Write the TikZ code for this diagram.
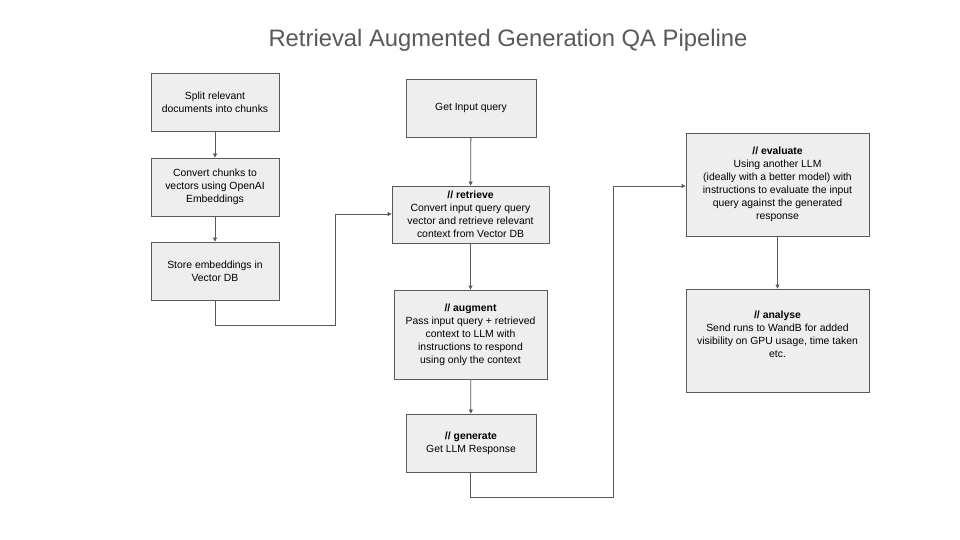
\documentclass[tikz,border=0pt]{standalone}
\usepackage{fontspec}
\setmainfont{Liberation Sans}
\usetikzlibrary{arrows.meta}
\definecolor{boxfill}{HTML}{EEEEEE}
\definecolor{boxline}{HTML}{595959}
\definecolor{titlegray}{HTML}{595959}
\begin{document}
\begin{tikzpicture}[x=1pt,y=-1pt,
  box/.style={draw=boxline, fill=boxfill, line width=0.8pt, align=center,
    font=\fontsize{10.4}{13}\selectfont, inner sep=0pt, text=black},
  plain/.style={align=center, font=\fontsize{10.4}{13}\selectfont, inner sep=0pt, text=black},
  conn/.style={draw=boxline, line width=0.8pt, -{Triangle[length=4pt,width=4pt]}}]
\useasboundingbox (0,0) rectangle (960,540);
\fill[white] (0,0) rectangle (960,540);
\node[font=\fontsize{23.8}{28}\selectfont, text=titlegray] (title) at (508,40) {Retrieval Augmented Generation QA Pipeline};

\node[box, minimum width=128pt, minimum height=58pt] (split) at (215,102) {Split relevant\\documents into chunks};
\node[box, minimum width=128pt, minimum height=58pt] (conv) at (215,187) {Convert chunks to\\vectors using OpenAI\\Embeddings};
\node[box, minimum width=128pt, minimum height=58pt] (store) at (215,271) {Store embeddings in\\Vector DB};

\node[box, minimum width=130pt, minimum height=58pt] (query) at (471,108) {Get Input query};
\node[box, minimum width=157pt, minimum height=57pt] (retr) at (470.5,214.5) {\textbf{// retrieve}\\Convert input query query\\vector and retrieve relevant\\context from Vector DB};
\node[box, minimum width=153pt, minimum height=89pt] (aug) at (470.5,334.5) {\textbf{// augment}\\Pass input query + retrieved\\context to LLM with\\instructions to respond\\using only the context};
\node[box, minimum width=130pt, minimum height=58pt] (gen) at (471,443) {\textbf{// generate}\\Get LLM Response};

\node[box, minimum width=183pt, minimum height=103pt] (eval) at (777.5,184.5) {\textbf{// evaluate}\\Using another LLM\\(ideally with a better model) with\\instructions to evaluate the input\\query against the generated\\response};
\node[box, minimum width=183pt, minimum height=103pt] (anal) at (777.5,340.5) {};
\node[plain] (analtext) at ([yshift=6pt]anal.center) {\textbf{// analyse}\\Send runs to WandB for added\\visibility on GPU usage, time taken\\etc.};

\coordinate (c1) at (215,325);
\coordinate (c2) at (335,325);
\coordinate (c3) at (335,214);
\coordinate (g1) at (470,497);
\coordinate (g2) at (613,497);
\coordinate (g3) at (613,186);

\draw[conn] (split) -- (conv);
\draw[conn] (conv) -- (store);
\draw[conn] (store.south) -- (c1) -- (c2) -- (c3) -- (retr.west |- c3);
\draw[conn] (query) -- (retr);
\draw[conn] (retr) -- (aug);
\draw[conn] (aug) -- (gen);
\draw[conn] (gen.south -| g1) -- (g1) -- (g2) -- (g3) -- (eval.west |- g3);
\draw[conn] (eval) -- (anal);
\end{tikzpicture}
\end{document}
